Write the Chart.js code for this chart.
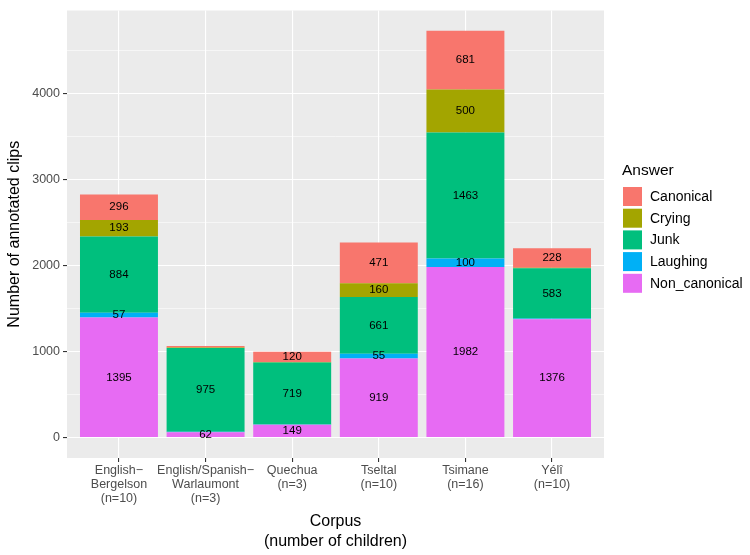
<!DOCTYPE html>
<html>
<head>
    <title>Annotated clips by corpus</title>
    <script src="https://cdn.jsdelivr.net/npm/chart.js"></script>
    <style>
        body { margin: 0; background: white; }
        #wrap { width: 750px; height: 555px; }
    </style>
</head>
<body>
    <div id="wrap"><canvas id="clipChart" width="750" height="555"></canvas></div>
    <script>
        // corpora on the x axis (multi-line tick labels)
        let categories = [
            ['English\u2212', 'Bergelson', '(n=10)'],
            ['English/Spanish\u2212', 'Warlaumont', '(n=3)'],
            ['Quechua', '(n=3)'],
            ['Tseltal', '(n=10)'],
            ['Tsimane', '(n=16)'],
            ['Y\u00e9l\u00ee', '(n=10)']
        ];
        // answer counts per corpus, stacked from the bottom up
        let nonCanonical = [1395, 62, 149, 919, 1982, 1376];
        let laughing     = [57, 6, 5, 55, 100, 8];
        let junk         = [884, 975, 719, 661, 1463, 583];
        let crying       = [193, 3, 6, 160, 500, 6];
        let canonical    = [296, 18, 120, 471, 681, 228];

        let yTicks = [0, 1000, 2000, 3000, 4000];
        let legendOrder = ['Canonical', 'Crying', 'Junk', 'Laughing', 'Non_canonical'];

        let colors = {
            Canonical: '#F8766D',
            Crying: '#A3A500',
            Junk: '#00BF7D',
            Laughing: '#00B0F6',
            Non_canonical: '#E76BF3'
        };

        let font = '"Liberation Sans", Arial, Helvetica, sans-serif';

        // ggplot pads discrete axes by 0.6 and continuous by 5%
        let total = nonCanonical.map((v, i) => v + laughing[i] + junk[i] + crying[i] + canonical[i]);
        let yMax = Math.max(...total);
        let yPad = yMax * 0.05;

        function makeSet(name, values) {
            return {
                label: name,
                data: values.map((v, i) => ({x: i, y: v})),
                backgroundColor: colors[name],
                borderWidth: 0,
                categoryPercentage: 1,
                barPercentage: 0.9
            };
        }

        let panelPlugin = {
            id: 'panel',
            beforeDraw(chart) {
                let a = chart.chartArea, ctx = chart.ctx;
                ctx.save();
                ctx.fillStyle = '#EBEBEB';
                ctx.fillRect(a.left, a.top, a.right - a.left, a.bottom - a.top);
                ctx.restore();
            }
        };

        let labelPlugin = {
            id: 'barLabels',
            afterDatasetsDraw(chart) {
                let ctx = chart.ctx;
                ctx.save();
                ctx.fillStyle = '#000';
                ctx.font = '11.5px ' + font;
                ctx.textAlign = 'center';
                ctx.textBaseline = 'middle';
                chart.data.datasets.forEach((ds, di) => {
                    chart.getDatasetMeta(di).data.forEach((bar, i) => {
                        let v = ds.data[i].y;
                        if (v < 50) return;
                        ctx.fillText(String(v), bar.x, (bar.y + bar.base) / 2);
                    });
                });
                ctx.restore();
            }
        };

        let decorPlugin = {
            id: 'decor',
            afterDraw(chart) {
                let ctx = chart.ctx, a = chart.chartArea;
                ctx.save();
                ctx.fillStyle = '#000';
                ctx.font = '16px ' + font;
                ctx.textAlign = 'center';
                ctx.textBaseline = 'middle';
                let cx = (a.left + a.right) / 2;
                ctx.fillText('Corpus', cx, 522);
                ctx.fillText('(number of children)', cx, 542);
                ctx.translate(15, (a.top + a.bottom) / 2);
                ctx.rotate(-Math.PI / 2);
                ctx.fillText('Number of annotated clips', 0, 0);
                ctx.restore();

                // legend
                ctx.save();
                ctx.textAlign = 'left';
                ctx.textBaseline = 'middle';
                ctx.fillStyle = '#000';
                ctx.font = '15.5px ' + font;
                ctx.fillText('Answer', 622, 171);
                ctx.font = '14px ' + font;
                legendOrder.forEach((name, i) => {
                    let top = 187 + i * 21.7;
                    ctx.fillStyle = colors[name];
                    ctx.fillRect(623, top, 19, 19);
                    ctx.fillStyle = '#000';
                    ctx.fillText(name, 650, top + 10);
                });
                ctx.restore();
            }
        };

        let ctx = document.getElementById('clipChart').getContext('2d');
        let clipChart = new Chart(ctx, {
            type: 'bar',
            data: {
                datasets: [
                    makeSet('Non_canonical', nonCanonical),
                    makeSet('Laughing', laughing),
                    makeSet('Junk', junk),
                    makeSet('Crying', crying),
                    makeSet('Canonical', canonical)
                ]
            },
            options: {
                responsive: false,
                animation: false,
                layout: { padding: { top: 4, right: 146, bottom: 0, left: 0 } },
                plugins: {
                    legend: { display: false },
                    tooltip: { enabled: false }
                },
                scales: {
                    x: {
                        type: 'linear',
                        stacked: true,
                        min: -0.6,
                        max: categories.length - 1 + 0.6,
                        offset: false,
                        afterBuildTicks: scale => {
                            scale.ticks = categories.map((c, i) => ({value: i}));
                        },
                        afterFit: scale => { scale.height = 97; },
                        border: { display: false },
                        grid: {
                            offset: false,
                            color: '#FFFFFF',
                            lineWidth: 1.1,
                            tickColor: '#333333',
                            tickLength: 4
                        },
                        ticks: {
                            autoSkip: false,
                            maxRotation: 0,
                            padding: 2,
                            color: '#4D4D4D',
                            font: { family: font, size: 12.5, lineHeight: 1.12 },
                            callback: value => categories[value]
                        }
                    },
                    y: {
                        stacked: true,
                        min: -yPad,
                        max: yMax + yPad,
                        afterBuildTicks: scale => {
                            let t = [];
                            for (let v = 0; v <= yMax + yPad; v += 500) t.push({value: v});
                            scale.ticks = t;
                        },
                        afterFit: scale => { scale.width = 67; },
                        border: { display: false },
                        grid: {
                            color: '#FFFFFF',
                            lineWidth: c => yTicks.includes(c.tick.value) ? 1.1 : 0.55,
                            tickColor: c => yTicks.includes(c.tick.value) ? '#333333' : 'rgba(0,0,0,0)',
                            tickLength: 4
                        },
                        ticks: {
                            padding: 3,
                            color: '#4D4D4D',
                            font: { family: font, size: 12.5 },
                            callback: value => yTicks.includes(value) ? String(value) : ''
                        }
                    }
                }
            },
            plugins: [panelPlugin, labelPlugin, decorPlugin]
        });
    </script>
</body>
</html>
